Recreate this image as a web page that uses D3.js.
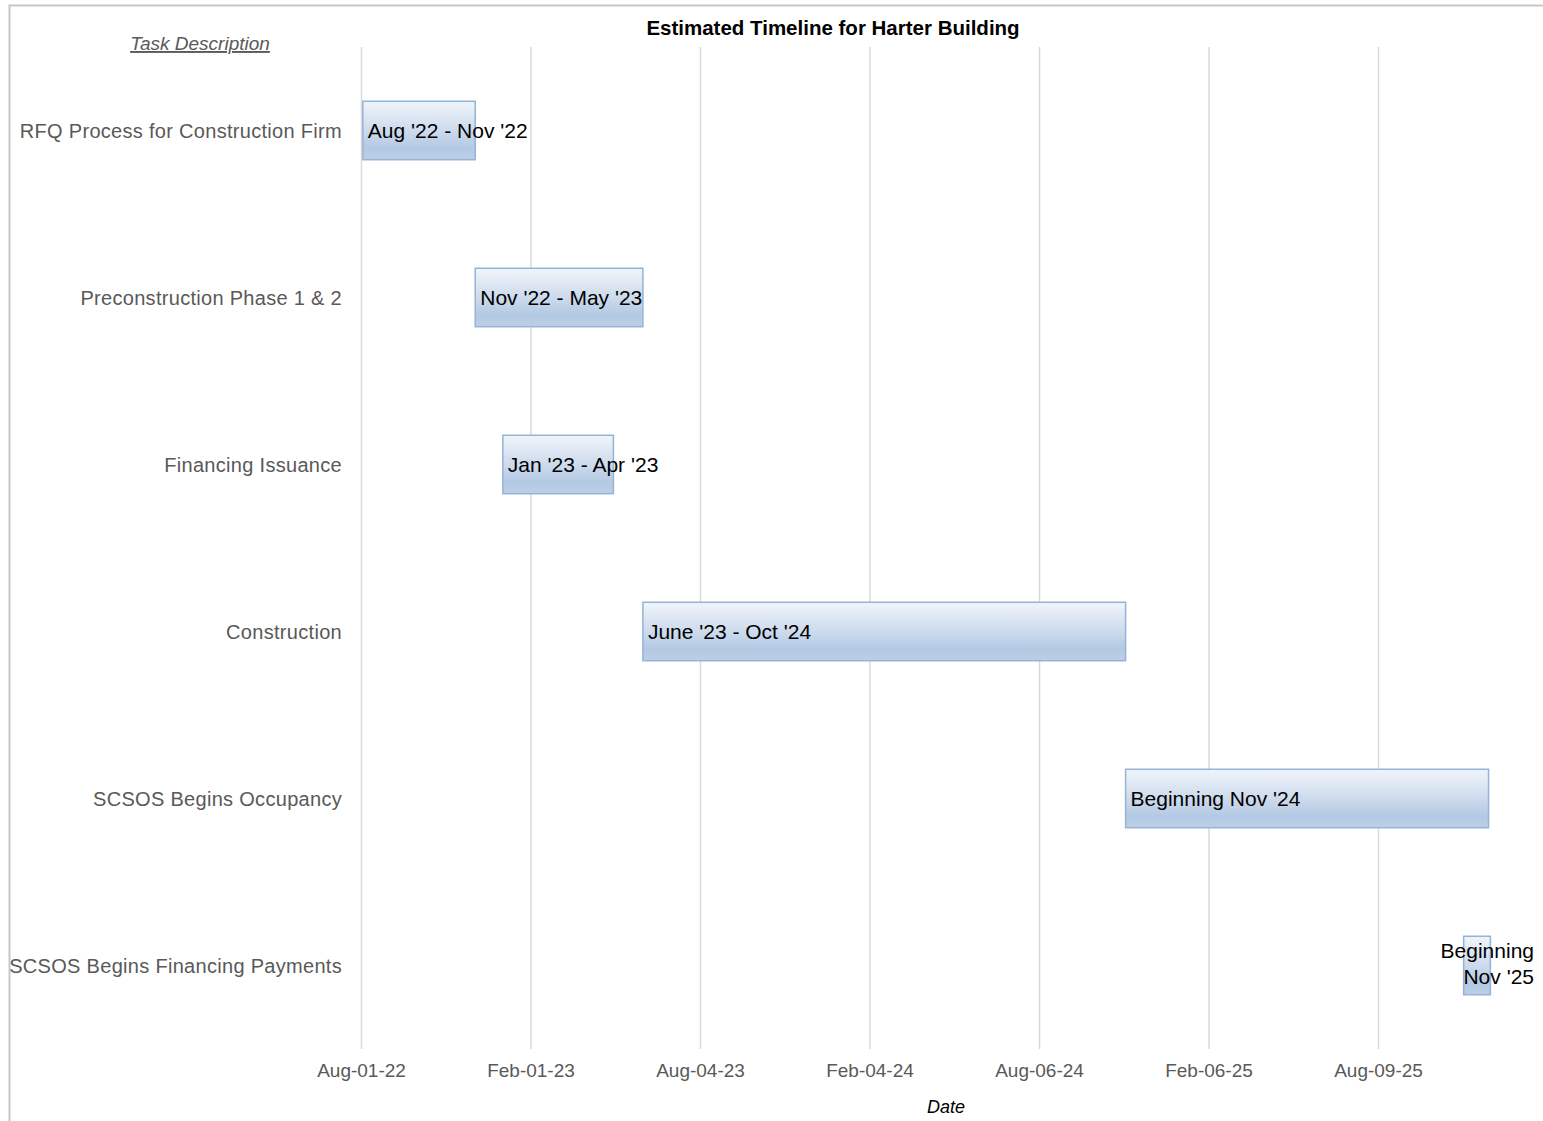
<!DOCTYPE html>
<html>
<head>
<meta charset="utf-8">
<script src="https://cdn.jsdelivr.net/npm/d3@7"></script>
<style>
  body { margin: 0; background: #fff; }
  svg { display: block; font-family: "Liberation Sans", Arial, sans-serif; }
</style>
</head>
<body>
<svg width="1543" height="1121"></svg>
<script>
const tasks = ["RFQ Process for Construction Firm", "Preconstruction Phase 1  & 2", "Financing Issuance",
  "Construction", "SCSOS Begins Occupancy", "SCSOS Begins Financing Payments"];
const starts = ["2022-08-03", "2022-12-03", "2023-01-02", "2023-06-03", "2024-11-08", "2025-11-10"];
const ends = ["2022-12-03", "2023-06-03", "2023-05-02", "2024-11-08", "2025-12-07", "2025-12-09"];
const bar_labels = [["Aug '22 - Nov '22"], ["Nov '22 - May '23"], ["Jan '23 - Apr '23"],
  ["June '23 - Oct '24"], ["Beginning Nov '24"], ["Beginning", "Nov '25"]];
const tick_dates = ["2022-08-01", "2023-02-01", "2023-08-04", "2024-02-04", "2024-08-06", "2025-02-06", "2025-08-09"];

const parse = d3.utcParse("%Y-%m-%d");
const fmt = d3.utcFormat("%b-%d-%y");

const data = tasks.map((t, i) => ({
  task: t, start: parse(starts[i]), end: parse(ends[i]), label: bar_labels[i]
}));

const svg = d3.select("svg");

// chart frame
svg.append("path")
  .attr("d", "M9.5,1121 V5.5 H1543")
  .attr("fill", "none")
  .attr("stroke", "#c8c8c8")
  .attr("stroke-width", 2);

const plot_top = 47, plot_bottom = 1049;
const x = d3.scaleUtc([parse("2022-08-01"), parse("2025-08-09")], [361, 1378]);
const y = d3.scaleBand(tasks, [plot_top, plot_bottom]).paddingInner(0.65).paddingOuter(0.325);

const defs = svg.append("defs");
const grad = defs.append("linearGradient")
  .attr("id", "barfill").attr("x1", 0).attr("y1", 0).attr("x2", 0).attr("y2", 1);
grad.append("stop").attr("offset", "0%").attr("stop-color", "#f1f5fb");
grad.append("stop").attr("offset", "55%").attr("stop-color", "#c9d8eb");
grad.append("stop").attr("offset", "80%").attr("stop-color", "#b3c9e3");
grad.append("stop").attr("offset", "100%").attr("stop-color", "#bccfe6");

// gridlines + axis
const xAxis = d3.axisBottom(x)
  .tickValues(tick_dates.map(parse))
  .tickFormat(fmt)
  .tickSize(-(plot_bottom - plot_top))
  .tickPadding(15);
const gx = svg.append("g")
  .attr("transform", `translate(0,${plot_bottom})`)
  .call(xAxis);
gx.select(".domain").remove();
gx.selectAll(".tick line").attr("stroke", "#d9d9d9").attr("stroke-width", 1.5);
gx.selectAll(".tick text")
  .attr("fill", "#595959")
  .attr("font-size", 19)
  .attr("font-family", "\"Liberation Sans\", Arial, sans-serif");

// bars
svg.append("g")
  .selectAll("rect")
  .data(data)
  .join("rect")
    .attr("x", d => x(d.start))
    .attr("y", d => y(d.task))
    .attr("width", d => x(d.end) - x(d.start))
    .attr("height", y.bandwidth())
    .attr("fill", "url(#barfill)")
    .attr("stroke", "#95b3d7")
    .attr("stroke-width", 1.5);

// bar labels
svg.append("g")
  .selectAll("text")
  .data(data)
  .join("text")
    .attr("font-size", 21)
    .attr("fill", "#000")
    .attr("text-anchor", d => d.label.length > 1 ? "end" : "start")
    .attr("x", d => d.label.length > 1 ? 1534 : x(d.start) + 5)
    .attr("y", d => y(d.task) + y.bandwidth() / 2 + (d.label.length > 1 ? -8 : 7))
    .each(function(d) {
      d3.select(this).selectAll("tspan")
        .data(d.label)
        .join("tspan")
          .attr("x", d3.select(this).attr("x"))
          .attr("dy", (l, i) => i === 0 ? 0 : 26)
          .text(l => l);
    });

// category labels
svg.append("g")
  .selectAll("text")
  .data(data)
  .join("text")
    .attr("x", 342)
    .attr("y", d => y(d.task) + y.bandwidth() / 2 + 7)
    .attr("text-anchor", "end")
    .attr("font-size", 20)
    .attr("letter-spacing", 0.3)
    .attr("fill", "#595959")
    .text(d => d.task);

// title and axis titles
svg.append("text")
  .attr("x", 833).attr("y", 35)
  .attr("text-anchor", "middle")
  .attr("font-size", 20.5)
  .attr("font-weight", "bold")
  .attr("fill", "#000")
  .text("Estimated Timeline for Harter Building");

svg.append("text")
  .attr("x", 200).attr("y", 50)
  .attr("text-anchor", "middle")
  .attr("font-size", 19)
  .attr("font-style", "italic")
  .attr("text-decoration", "underline")
  .attr("fill", "#595959")
  .text("Task Description");

svg.append("text")
  .attr("x", 946).attr("y", 1113)
  .attr("text-anchor", "middle")
  .attr("font-size", 18)
  .attr("font-style", "italic")
  .attr("fill", "#000")
  .text("Date");
</script>
</body>
</html>
